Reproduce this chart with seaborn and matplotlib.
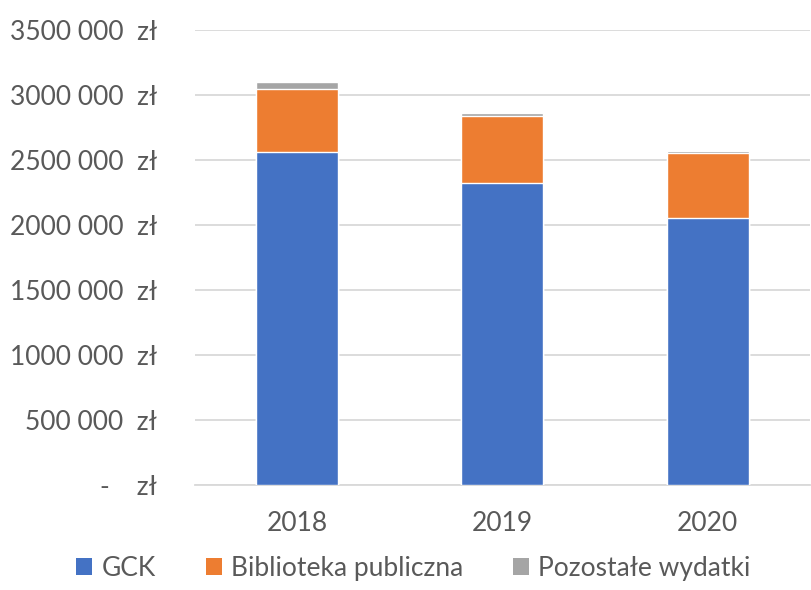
import pandas as pd
import matplotlib.pyplot as plt
import seaborn as sns
from matplotlib.patches import Patch

# Wydatki na kulturę (zł)
years = ["2018", "2019", "2020"]
gck = [2564000, 2323000, 2054000]
biblioteka = [484000, 518000, 500000]
pozostale = [52000, 18000, 15000]

series_names = ["GCK", "Biblioteka publiczna", "Pozostałe wydatki"]
colours = ["#4472C4", "#ED7D31", "#A5A5A5"]

yticks = [0, 500000, 1000000, 1500000, 2000000, 2500000, 3000000, 3500000]
ytick_labels = ["-    zł", "500 000  zł", "1000 000  zł", "1500 000  zł",
                "2000 000  zł", "2500 000  zł", "3000 000  zł", "3500 000  zł"]

df = pd.DataFrame({"rok": years, "GCK": gck,
                   "Biblioteka publiczna": biblioteka,
                   "Pozostałe wydatki": pozostale})
# cumulative tops for stacking (draw tallest first)
df["top1"] = df["GCK"]
df["top2"] = df["top1"] + df["Biblioteka publiczna"]
df["top3"] = df["top2"] + df["Pozostałe wydatki"]

sns.set_theme(style="white")
plt.rcParams["font.family"] = ["Lato", "DejaVu Sans"]
text_col = "#595959"
fs = 19

fig = plt.figure(figsize=(8.11, 5.90), dpi=100)
ax = fig.add_axes([0.240, 0.178, 0.759, 0.771])

for col, c in zip(["top3", "top2", "top1"], colours[::-1]):
    sns.barplot(data=df, x="rok", y=col, color=c, width=0.4,
                saturation=1, ax=ax, zorder=3)

ax.set_ylim(0, 3500000)
ax.set_xlim(-0.5, 2.5)
ax.set_yticks(yticks)
ax.set_yticklabels(ytick_labels)
ax.yaxis.grid(True, color="#D9D9D9", linewidth=1.3, zorder=0)
ax.xaxis.grid(False)
for s in ["top", "right", "left"]:
    ax.spines[s].set_visible(False)
ax.spines["bottom"].set_color("#D9D9D9")
ax.spines["bottom"].set_linewidth(1.3)
ax.tick_params(axis="y", length=0, pad=27, labelsize=fs, labelcolor=text_col)
ax.tick_params(axis="x", length=0, pad=19, labelsize=fs, labelcolor=text_col)
ax.set_xlabel("")
ax.set_ylabel("")

handles = [Patch(facecolor=c, edgecolor="none") for c in colours]
fig.legend(handles, series_names, loc="lower center", ncol=3,
           bbox_to_anchor=(0.51, -0.025), frameon=False, fontsize=fs,
           labelcolor=text_col, handlelength=0.6, handleheight=0.6,
           handletextpad=0.35, columnspacing=1.9)

fig.savefig("out.png", dpi=100)
